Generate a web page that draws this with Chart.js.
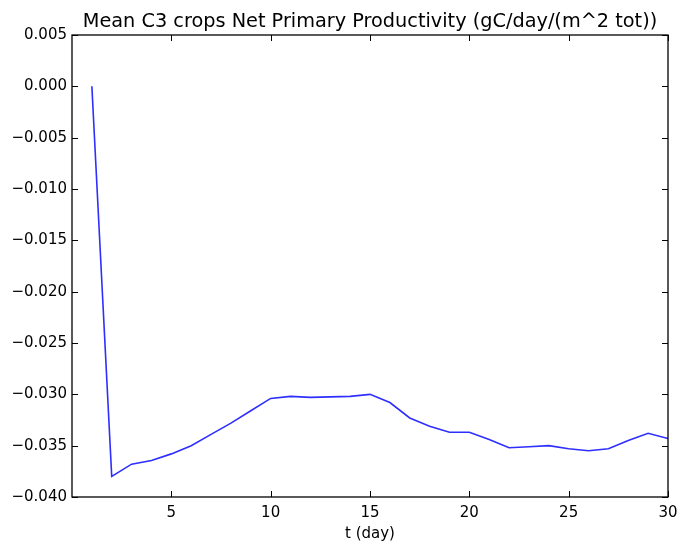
<!DOCTYPE html>
<html>
<head>
<meta charset="utf-8">
<script src="https://cdn.jsdelivr.net/npm/chart.js@4/dist/chart.umd.min.js"></script>
<style>
  html, body { margin: 0; padding: 0; background: #fff; }
  #wrap { width: 682px; height: 543px; }
</style>
</head>
<body>
<div id="wrap"><canvas id="nppChart" width="682" height="543"></canvas></div>
<script>
// days and mean NPP values
const days = [1,2,3,4,5,6,7,8,9,10,11,12,13,14,15,16,17,18,19,20,21,22,23,24,25,26,27,28,29,30];
const npp = [0.0000,-0.0380,-0.0368,-0.03645,-0.0358,-0.0350,-0.0339,-0.0328,-0.0316,-0.0304,
             -0.0302,-0.0303,-0.03025,-0.0302,-0.0300,-0.0308,-0.0323,-0.0331,-0.0337,-0.0337,
             -0.0344,-0.0352,-0.0351,-0.0350,-0.0353,-0.0355,-0.0353,-0.0345,-0.0338,-0.0343];
const xTicks = [5,10,15,20,25,30];
const yTicks = [0.005,0,-0.005,-0.010,-0.015,-0.020,-0.025,-0.030,-0.035,-0.040];
const titleText = 'Mean C3 crops Net Primary Productivity (gC/day/(m^2 tot))';

const points = days.map((d, i) => ({x: d, y: npp[i]}));

// box around the axes + inward ticks on all four sides, title centred over the plot
const boxTicks = {
  id: 'boxTicks',
  afterDraw(chart) {
    const {ctx, chartArea: a, scales} = chart;
    const len = 6;
    ctx.save();
    ctx.strokeStyle = '#000';
    ctx.lineWidth = 1;
    ctx.beginPath();
    xTicks.forEach(v => {
      const px = Math.round(scales.x.getPixelForValue(v)) + 0.5;
      ctx.moveTo(px, a.bottom); ctx.lineTo(px, a.bottom - len);
      ctx.moveTo(px, a.top); ctx.lineTo(px, a.top + len);
    });
    yTicks.forEach(v => {
      const py = Math.round(scales.y.getPixelForValue(v)) + 0.5;
      ctx.moveTo(a.left, py); ctx.lineTo(a.left + len, py);
      ctx.moveTo(a.right, py); ctx.lineTo(a.right - len, py);
    });
    ctx.stroke();
    ctx.lineWidth = 1.3;
    ctx.strokeRect(a.left, a.top, a.right - a.left, a.bottom - a.top);

    ctx.fillStyle = '#000';
    ctx.font = '19.3px "DejaVu Sans"';
    ctx.textAlign = 'center';
    ctx.textBaseline = 'alphabetic';
    ctx.fillText(titleText, (a.left + a.right) / 2, 27);
    ctx.restore();
  }
};

new Chart(document.getElementById('nppChart'), {
  type: 'line',
  data: {
    datasets: [{
      data: points,
      borderColor: '#2e2eff',
      borderWidth: 1.6,
      pointRadius: 0,
      tension: 0,
      fill: false
    }]
  },
  options: {
    responsive: false,
    animation: false,
    layout: { padding: { left: 0, right: 14, top: 35, bottom: 0 } },
    plugins: {
      legend: { display: false },
      tooltip: { enabled: false },
      title: { display: false }
    },
    scales: {
      x: {
        type: 'linear',
        min: 0,
        max: 30,
        afterFit(s) { s.height = 46; s.paddingRight = 0; s.paddingLeft = 0; },
        afterBuildTicks(s) { s.ticks = xTicks.map(v => ({value: v})); },
        grid: { display: false, drawTicks: false },
        border: { display: false },
        ticks: {
          color: '#000',
          padding: 7,
          maxRotation: 0,
          font: { family: 'DejaVu Sans', size: 15 },
          callback: v => String(v)
        },
        title: {
          display: true,
          text: 't (day)',
          color: '#000',
          padding: { top: 2, bottom: 0 },
          font: { family: 'DejaVu Sans', size: 15 }
        }
      },
      y: {
        min: -0.040,
        max: 0.005,
        afterFit(s) { s.width = 72; s.paddingTop = 0; s.paddingBottom = 0; },
        afterBuildTicks(s) { s.ticks = yTicks.map(v => ({value: v})); },
        grid: { display: false, drawTicks: false },
        border: { display: false },
        ticks: {
          color: '#000',
          padding: 5,
          font: { family: 'DejaVu Sans', size: 15 },
          callback: v => (Math.abs(v) < 1e-9 ? 0 : v).toFixed(3).replace('-', '\u2212')
        }
      }
    }
  },
  plugins: [boxTicks]
});
</script>
</body>
</html>
